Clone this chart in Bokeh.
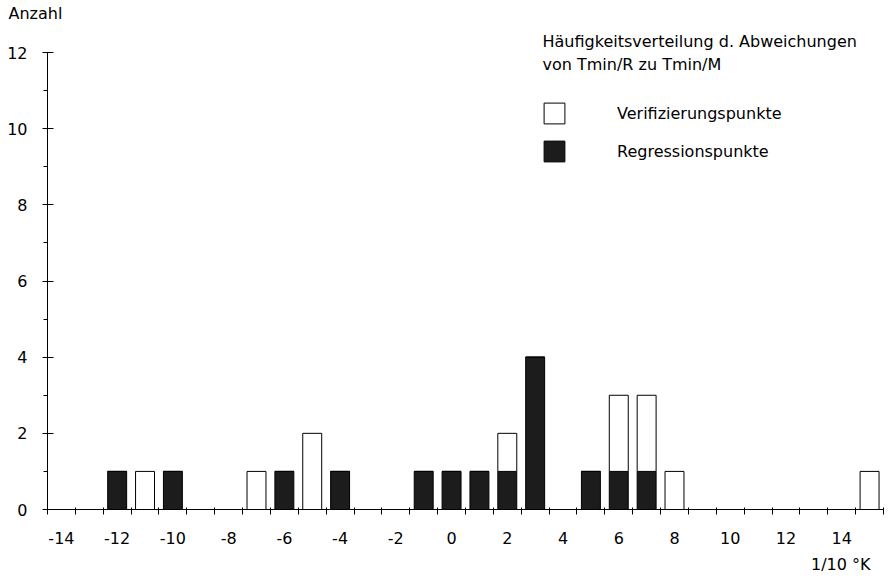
from bokeh.plotting import figure
from bokeh.models import Range1d, FixedTicker, Label, Legend, LegendItem, ColumnDataSource, Title
from bokeh.embed import file_html
from bokeh.resources import INLINE

# ---- data ----
abweichung = [-12, -11, -10, -7, -6, -5, -4, -1, 0, 1, 2, 3, 5, 6, 7, 8, 15]
regressionspunkte = [1, 0, 1, 0, 1, 0, 1, 1, 1, 1, 1, 4, 1, 1, 1, 0, 0]
verifizierungspunkte = [0, 1, 0, 1, 0, 2, 0, 0, 0, 0, 1, 0, 0, 2, 2, 1, 1]
x_tick_labels = list(range(-14, 15, 2))
y_tick_labels = list(range(0, 13, 2))

FONT = "DejaVu Sans"
W, H = 890, 582
FL, FR, FT, FB = 47, 883, 22, 509      # frame edges on the canvas
Y12 = 52                               # pixel row of y = 12
X0, X1 = -14.5, 15.5
Y0 = 0
Y1 = 12 * (FB - FT) / (FB - Y12)

def dx(sx):
    return X0 + (sx - FL) * (X1 - X0) / (FR - FL)

def dy(sy):
    return Y0 + (FB - sy) * (Y1 - Y0) / (FB - FT)

src = ColumnDataSource(dict(x=abweichung, reg=regressionspunkte, ver=verifizierungspunkte))

p = figure(width=W, height=H, output_backend="svg", toolbar_location=None,
           x_range=Range1d(X0, X1), y_range=Range1d(Y0, Y1),
           min_border_left=FL, min_border_right=W - FR,
           min_border_top=FT, min_border_bottom=H - FB)
p.outline_line_color = None
p.grid.visible = False
p.background_fill_color = "white"
p.border_fill_color = "white"

r_black, r_white = p.vbar_stack(["reg", "ver"], x="x", width=0.68, source=src,
                                fill_color=["#1c1c1c", "white"],
                                line_color="black", line_width=1)

# x axis
xa = p.xaxis[0]
xa.ticker = FixedTicker(ticks=x_tick_labels, minor_ticks=[i + 0.5 for i in range(-15, 16)])
xa.major_label_overrides = {t: str(t) for t in x_tick_labels}
xa.major_tick_line_color = None
xa.major_tick_in = 0
xa.major_tick_out = 0
xa.minor_tick_in = 2
xa.minor_tick_out = 5
xa.minor_tick_line_color = "black"
xa.axis_line_color = "black"
xa.major_label_standoff = 17
xa.major_label_text_font = FONT
xa.major_label_text_font_size = "16px"
xa.major_label_text_color = "black"

# unit label under the right end of the x axis
p.add_layout(Title(text="1/10 °K", align="right", offset=W - FR + 6, standoff=13,
                   text_font=FONT, text_font_size="16px", text_font_style="normal",
                   text_color="black"), "below")

# y axis
ya = p.yaxis[0]
ya.ticker = FixedTicker(ticks=y_tick_labels, minor_ticks=[i for i in range(1, 12, 2)])
ya.bounds = (0, 12)
ya.major_tick_in = 6
ya.major_tick_out = 5
ya.minor_tick_in = 0
ya.minor_tick_out = 4
ya.major_tick_line_color = "black"
ya.minor_tick_line_color = "black"
ya.axis_line_color = "black"
ya.major_label_standoff = 15
ya.major_label_text_font = FONT
ya.major_label_text_font_size = "16px"
ya.major_label_text_color = "black"

# "Anzahl" above the y axis
p.add_layout(Title(text="Anzahl", align="left", offset=8 - FL, standoff=0,
                   text_font=FONT, text_font_size="16px", text_font_style="normal",
                   text_color="black"), "above")

def add_label(text, sx, sy, align="left"):
    p.add_layout(Label(x=dx(sx), y=dy(sy), text=text, text_font=FONT,
                       text_font_size="16px", text_color="black",
                       text_align=align, text_baseline="alphabetic"))

add_label("Häufigkeitsverteilung d.  Abweichungen", 542, 41)
add_label("von Tmin/R zu Tmin/M", 542, 64)

legend = Legend(items=[LegendItem(label="Verifizierungspunkte", renderers=[r_white]),
                       LegendItem(label="Regressionspunkte", renderers=[r_black])],
                location=(541 - FL, FB - 164),
                glyph_width=26, glyph_height=26, label_standoff=50, spacing=12,
                padding=0, margin=0, border_line_color=None, background_fill_alpha=0,
                label_text_font=FONT, label_text_font_size="16px", label_text_color="black")
p.add_layout(legend)

open("out.html", "w").write(file_html(p, INLINE))
